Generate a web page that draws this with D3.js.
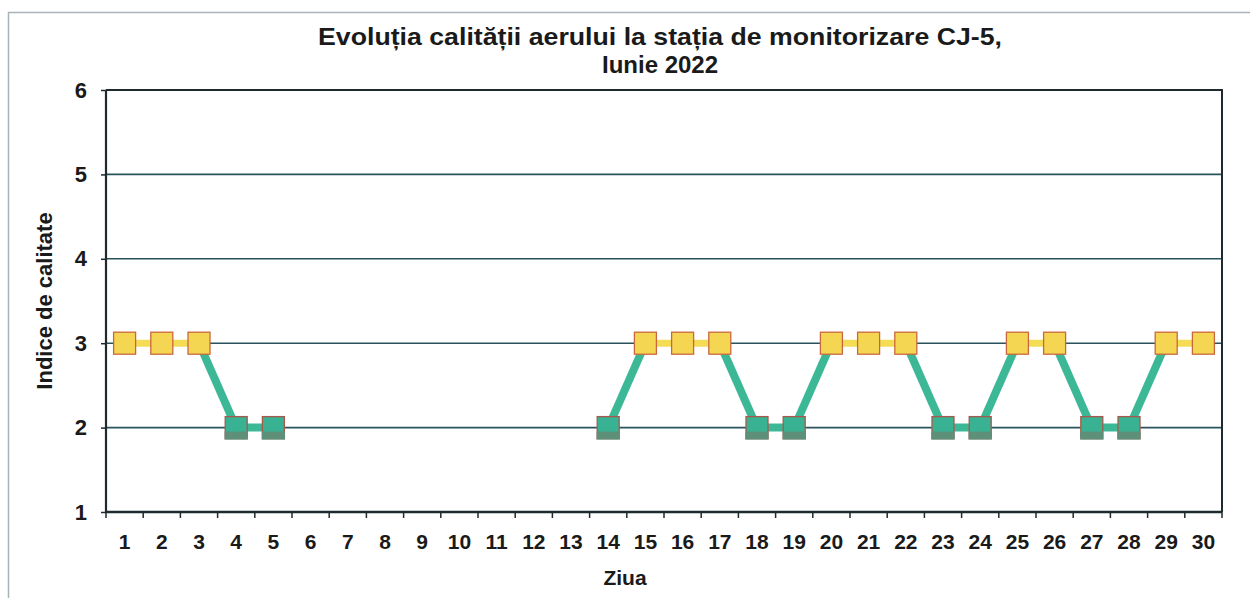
<!DOCTYPE html>
<html>
<head>
<meta charset="utf-8">
<script src="https://cdn.jsdelivr.net/npm/d3@7"></script>
<style>
  body { margin: 0; background: #ffffff; }
  svg { display: block; }
</style>
</head>
<body>
<div class="chart-section"></div>
<script>
var days = ["1","2","3","4","5","6","7","8","9","10","11","12","13","14","15",
            "16","17","18","19","20","21","22","23","24","25","26","27","28","29","30"];
var indexValues = [3, 3, 3, 2, 2, null, null, null, null, null, null, null, null, 2, 3,
                   3, 3, 2, 2, 3, 3, 3, 2, 2, 3, 3, 2, 2, 3, 3];
var yTicks = [1, 2, 3, 4, 5, 6];
var titleLines = ["Evoluția calității aerului la stația de monitorizare CJ-5,", "Iunie 2022"];
var xTitle = "Ziua";
var yTitle = "Indice de calitate";

var svgWidth = 1250;
var svgHeight = 598;
var plotLeft = 106, plotRight = 1222, plotTop = 90, plotBottom = 512;

var svg = d3.select(".chart-section").append("svg")
  .attr("width", svgWidth)
  .attr("height", svgHeight)
  .style("font-family", "'Liberation Sans', Arial, sans-serif");

// outer chart frame
svg.append("rect")
  .attr("x", 8.5)
  .attr("y", 12.5)
  .attr("width", 1300)
  .attr("height", 700)
  .attr("fill", "#ffffff")
  .attr("stroke", "#a7b3b6")
  .attr("stroke-width", 1.5);

var xScale = d3.scaleBand()
  .domain(days)
  .range([plotLeft, plotRight]);
var yScale = d3.scaleLinear()
  .domain([1, 6])
  .range([plotBottom, plotTop]);

// gridlines
svg.append("g")
  .selectAll("line")
  .data(yTicks.slice(1, 5))
  .enter()
  .append("line")
    .attr("x1", plotLeft)
    .attr("x2", plotRight)
    .attr("y1", function(d){ return yScale(d); })
    .attr("y2", function(d){ return yScale(d); })
    .attr("stroke", "#28535d")
    .attr("stroke-width", 1.6);

// plot frame top / right
svg.append("path")
  .attr("d", "M" + plotLeft + "," + yScale(6) + "H" + plotRight + "V" + plotBottom)
  .attr("fill", "none")
  .attr("stroke", "#1e2a2e")
  .attr("stroke-width", 2);

// axes
var xAxis = d3.axisBottom(xScale).tickSize(0).tickPadding(22);
var gx = svg.append("g")
  .attr("transform", "translate(0," + plotBottom + ")")
  .call(xAxis);
gx.select(".domain").remove();
gx.selectAll("text")
  .style("font-size", "21px")
  .style("font-weight", "bold")
  .attr("fill", "#1a1a1a");

// x ticks at category edges
svg.append("g")
  .selectAll("line")
  .data(days.concat(["end"]))
  .enter()
  .append("line")
    .attr("x1", function(d, i){ return plotLeft + i * xScale.step(); })
    .attr("x2", function(d, i){ return plotLeft + i * xScale.step(); })
    .attr("y1", plotBottom)
    .attr("y2", plotBottom + 6)
    .attr("stroke", "#1e2a2e")
    .attr("stroke-width", 1.5);

var yAxis = d3.axisLeft(yScale).tickValues(yTicks).tickFormat(d3.format("d"))
  .tickSize(5).tickPadding(14);
var gy = svg.append("g")
  .attr("transform", "translate(" + plotLeft + ",0)")
  .call(yAxis);
gy.select(".domain").remove();
gy.selectAll("line").attr("stroke", "#1e2a2e").attr("stroke-width", 1.5);
gy.selectAll("text")
  .style("font-size", "22px")
  .style("font-weight", "bold")
  .attr("fill", "#1a1a1a");

svg.append("line")
  .attr("x1", plotLeft).attr("x2", plotLeft)
  .attr("y1", plotTop).attr("y2", plotBottom)
  .attr("stroke", "#1e2a2e")
  .attr("stroke-width", 2.2);
svg.append("line")
  .attr("x1", plotLeft).attr("x2", plotRight)
  .attr("y1", plotBottom).attr("y2", plotBottom)
  .attr("stroke", "#1e2a2e")
  .attr("stroke-width", 2.6);

// series segments, yellow between two 3s otherwise green
var points = [];
for (var i = 0; i < days.length; i++){
  if (indexValues[i] !== null) points.push({"day": days[i], "value": indexValues[i], "i": i});
}
var segments = [];
for (var i = 1; i < points.length; i++){
  if (points[i].i - points[i-1].i === 1) segments.push([points[i-1], points[i]]);
}
function cx(d){ return xScale(d.day) + xScale.bandwidth() / 2; }

svg.append("g")
  .selectAll("line")
  .data(segments)
  .enter()
  .append("line")
    .attr("x1", function(d){ return cx(d[0]); })
    .attr("y1", function(d){ return yScale(d[0].value); })
    .attr("x2", function(d){ return cx(d[1]); })
    .attr("y2", function(d){ return yScale(d[1].value); })
    .attr("stroke", function(d){
      return (d[0].value === 3 && d[1].value === 3) ? "#f4dc55" : "#3cb896";
    })
    .attr("stroke-width", function(d){
      return (d[0].value === 3 && d[1].value === 3) ? 7 : 8;
    });

// markers
var markSize = 22;
var marks = svg.append("g")
  .selectAll("g")
  .data(points)
  .enter()
  .append("g")
    .attr("transform", function(d){ return "translate(" + cx(d) + "," + yScale(d.value) + ")"; });

marks.append("rect")
  .attr("x", -markSize / 2)
  .attr("y", -markSize / 2)
  .attr("width", markSize)
  .attr("height", markSize)
  .attr("fill", function(d){ return d.value === 3 ? "#f5d653" : "#39b193"; })
  .attr("stroke", function(d){ return d.value === 3 ? "#c9683e" : "#a8594c"; })
  .attr("stroke-width", 1.3);

marks.filter(function(d){ return d.value === 2; })
  .append("rect")
    .attr("x", -markSize / 2 - 0.6)
    .attr("y", 4)
    .attr("width", markSize + 1.2)
    .attr("height", 8)
    .attr("fill", "#5e8f78");

// titles
svg.append("g")
  .selectAll("text")
  .data(titleLines)
  .enter()
  .append("text")
    .attr("x", 660)
    .attr("y", function(d, i){ return 45 + i * 28; })
    .attr("text-anchor", "middle")
    .attr("textLength", function(d, i){ return i === 0 ? 684 : null; })
    .attr("lengthAdjust", "spacingAndGlyphs")
    .style("font-size", "24px")
    .style("font-weight", "bold")
    .attr("fill", "#1a1a1a")
    .text(function(d){ return d; });

svg.append("text")
  .attr("x", 625)
  .attr("y", 585)
  .attr("text-anchor", "middle")
  .style("font-size", "21px")
  .style("font-weight", "bold")
  .attr("fill", "#1a1a1a")
  .text(xTitle);

svg.append("text")
  .attr("transform", "translate(52," + ((plotTop + plotBottom) / 2) + ") rotate(-90)")
  .attr("text-anchor", "middle")
  .style("font-size", "22px")
  .style("font-weight", "bold")
  .attr("fill", "#1a1a1a")
  .text(yTitle);
</script>
</body>
</html>
